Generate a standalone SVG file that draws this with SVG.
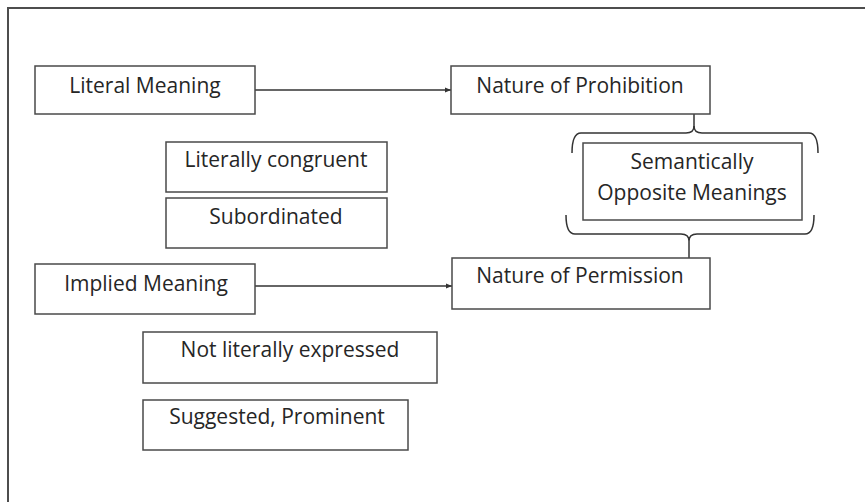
<svg xmlns="http://www.w3.org/2000/svg" width="865" height="502" viewBox="0 0 865 502">
  <style>
    .box { fill: #ffffff; stroke: #4a4a4a; stroke-width: 1.5; }
    .lbl { font-family: "Open Sans", "Liberation Sans", sans-serif; font-size: 21px; fill: #262626; text-anchor: middle; }
    .wire { fill: none; stroke: #333333; stroke-width: 1.5; }
    .frame { fill: none; stroke: #4d4d4d; stroke-width: 2; }
  </style>
  <defs>
    <marker id="arrow" viewBox="0 0 10 10" refX="10" refY="5" markerWidth="7" markerHeight="6" orient="auto" markerUnits="userSpaceOnUse">
      <path d="M0,1 L10,5 L0,9 Z" fill="#333333"/>
    </marker>
  </defs>

  <rect x="0" y="0" width="865" height="502" fill="#ffffff"/>
  <!-- page frame (top and left edges) -->
  <path class="frame" d="M8,502 L8,8 L865,8"/>

  <g id="connectors">
    <line class="wire" x1="255" y1="90" x2="451" y2="90" marker-end="url(#arrow)"/>
    <line class="wire" x1="255" y1="286" x2="452" y2="286" marker-end="url(#arrow)"/>
    <!-- upper brace hanging from Nature of Prohibition -->
    <line class="wire" x1="694" y1="114" x2="694" y2="127"/>
    <path class="wire" d="M572,153 Q572,133 581,133 L686,133 Q694,133 694,126 Q694,133 702,133 L809,133 Q818,133 818,153"/>
    <!-- lower brace leading to Nature of Permission -->
    <path class="wire" d="M566,215 Q566,234 575,234 L681,234 Q689,234 689,241 Q689,234 697,234 L805,234 Q814,234 814,215"/>
    <line class="wire" x1="689" y1="241" x2="689" y2="258"/>
  </g>

  <g id="literal-meaning">
    <rect class="box" x="35" y="66" width="220" height="48"/>
    <text class="lbl" x="145" y="93">Literal Meaning</text>
  </g>
  <g id="nature-of-prohibition">
    <rect class="box" x="451" y="66" width="259" height="48"/>
    <text class="lbl" x="580" y="93">Nature of Prohibition</text>
  </g>
  <g id="literally-congruent">
    <rect class="box" x="166" y="142" width="221" height="50"/>
    <text class="lbl" x="276" y="167">Literally congruent</text>
  </g>
  <g id="subordinated">
    <rect class="box" x="166" y="198" width="221" height="50"/>
    <text class="lbl" x="276" y="224">Subordinated</text>
  </g>
  <g id="semantically-opposite">
    <rect class="box" x="583" y="143" width="219" height="77"/>
    <text class="lbl" x="692" y="169">Semantically</text>
    <text class="lbl" x="692" y="200">Opposite Meanings</text>
  </g>
  <g id="implied-meaning">
    <rect class="box" x="35" y="264" width="220" height="50"/>
    <text class="lbl" x="146" y="291">Implied Meaning</text>
  </g>
  <g id="nature-of-permission">
    <rect class="box" x="452" y="258" width="258" height="51"/>
    <text class="lbl" x="580" y="283">Nature of Permission</text>
  </g>
  <g id="not-literally-expressed">
    <rect class="box" x="143" y="332" width="294" height="51"/>
    <text class="lbl" x="290" y="357">Not literally expressed</text>
  </g>
  <g id="suggested-prominent">
    <rect class="box" x="143" y="400" width="265" height="50"/>
    <text class="lbl" x="277" y="424">Suggested, Prominent</text>
  </g>
</svg>
